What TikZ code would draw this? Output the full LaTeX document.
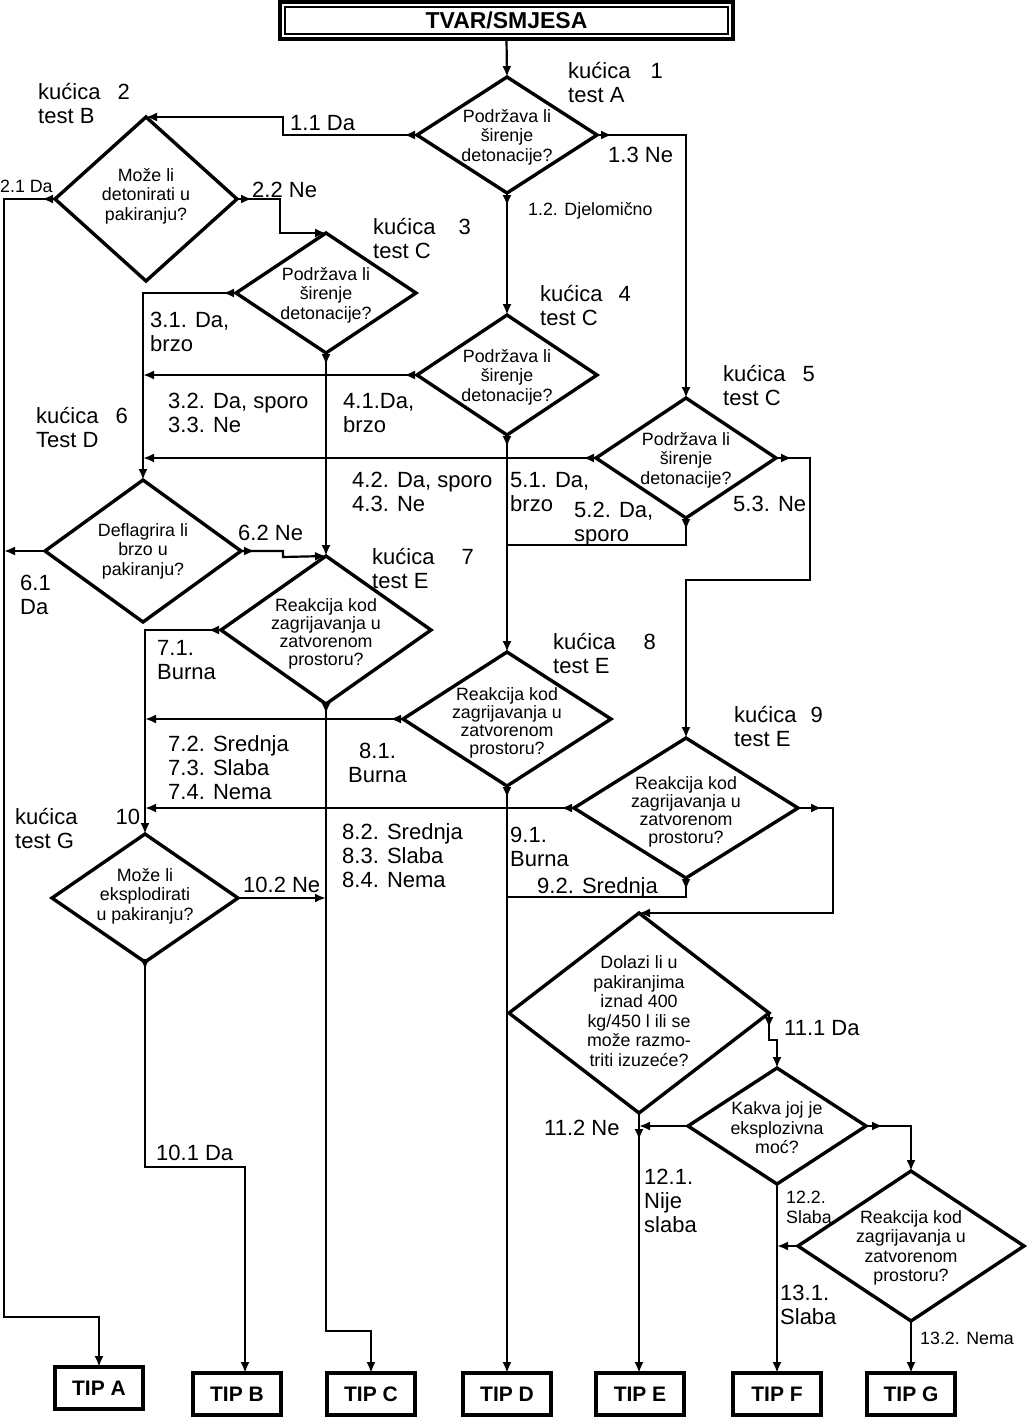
\documentclass[tikz,border=0pt]{standalone}
\usepackage{fontspec}
\setmainfont{Liberation Sans}
\usetikzlibrary{shapes.geometric,arrows.meta}
\newcommand\fbig{\fontsize{22}{24}\selectfont}
\newcommand\fsml{\fontsize{17.8}{19.5}\selectfont}
\newcommand\fsmt{\fontsize{17.8}{18}\selectfont}
\newcommand\kgap[1]{\hspace*{#1pt}}
\tikzset{
  conn/.style={line width=2.2pt},
  arr/.style={conn,-{Latex[length=11pt,width=9pt]}},
  dia/.style={draw,diamond,line width=3.4pt,inner sep=0pt,outer sep=0pt,line join=miter},
  qtext/.style={font=\fsml, align=center, inner sep=0pt},
  qtextt/.style={font=\fsmt, align=center, inner sep=0pt},
  lbl/.style={font=\fbig, align=left, anchor=north west, inner sep=0pt},
  slbl/.style={font=\fsml, align=left, anchor=north west, inner sep=0pt},
  tipbox/.style={draw, line width=4pt, minimum width=88pt, minimum height=42pt, inner sep=0pt, outer sep=0pt, font=\fontsize{21}{24}\selectfont\bfseries},
}
\begin{document}
\begin{tikzpicture}[x=1pt,y=-1pt]
\useasboundingbox (0,0) rectangle (1031,1425);
% top box
\node[draw, line width=4pt, minimum width=453pt, minimum height=37pt, inner sep=0pt, outer sep=0pt, font=\fontsize{23}{26}\selectfont\bfseries] (top) at (506.5,20.5) {TVAR/SMJESA};
\draw[line width=2pt] ([xshift=5pt,yshift=-5pt]top.north west) rectangle ([xshift=-5pt,yshift=5pt]top.south east);

% diamonds
\node[dia, minimum width=180pt, minimum height=116pt] (d1) at (507,135) {};
\node[dia, minimum width=182pt, minimum height=164pt] (d2) at (146,199) {};
\node[dia, minimum width=180pt, minimum height=120pt] (d3) at (326,293) {};
\node[dia, minimum width=180pt, minimum height=120pt] (d4) at (507,375) {};
\node[dia, minimum width=180pt, minimum height=120pt] (d5) at (686,458) {};
\node[dia, minimum width=196pt, minimum height=142pt] (d6) at (143,551) {};
\node[dia, minimum width=210pt, minimum height=148pt] (d7) at (326,630) {};
\node[dia, minimum width=208pt, minimum height=134pt] (d8) at (507,719) {};
\node[dia, minimum width=224pt, minimum height=140pt] (d9) at (686,808) {};
\node[dia, minimum width=186pt, minimum height=128pt] (d10) at (145,898) {};
\node[dia, minimum width=260pt, minimum height=200pt] (d11) at (639,1013) {};
\node[dia, minimum width=178pt, minimum height=116pt] (d12) at (777,1126) {};
\node[dia, minimum width=226pt, minimum height=150pt] (d13) at (911,1246) {};

% diamond texts
\node[qtext] (q1) at (507,137) {Podržava li\\širenje\\detonacije?};
\node[qtext] (q2) at (146,196) {Može li\\detonirati u\\pakiranju?};
\node[qtext] (q3) at (326,295) {Podržava li\\širenje\\detonacije?};
\node[qtext] (q4) at (507,377) {Podržava li\\širenje\\detonacije?};
\node[qtext] (q5) at (686,460) {Podržava li\\širenje\\detonacije?};
\node[qtext] (q6) at (143,551) {Deflagrira li\\brzo u\\pakiranju?};
\node[qtextt] (q7) at (326,634) {Reakcija kod\\zagrijavanja u\\zatvorenom\\prostoru?};
\node[qtextt] (q8) at (507,723) {Reakcija kod\\zagrijavanja u\\zatvorenom\\prostoru?};
\node[qtextt] (q9) at (686,812) {Reakcija kod\\zagrijavanja u\\zatvorenom\\prostoru?};
\node[qtext] (q10) at (145,896) {Može li\\eksplodirati\\u pakiranju?};
\node[qtext] (q11) at (639,1011) {Dolazi li u\\pakiranjima\\iznad 400\\kg/450 l ili se\\može razmo-\\triti izuzeće?};
\node[qtext] (q12) at (777,1128) {Kakva joj je\\eksplozivna\\moć?};
\node[qtext] (q13) at (911,1248) {Reakcija kod\\zagrijavanja u\\zatvorenom\\prostoru?};

% result boxes
\node[tipbox] (tipA) at (99,1388) {TIP A};
\node[tipbox] (tipB) at (237,1394) {TIP B};
\node[tipbox] (tipC) at (371,1394) {TIP C};
\node[tipbox] (tipD) at (507,1394) {TIP D};
\node[tipbox] (tipE) at (640,1394) {TIP E};
\node[tipbox] (tipF) at (777,1394) {TIP F};
\node[tipbox] (tipG) at (911,1394) {TIP G};

% connectors
\draw[arr] (top.south) -- (d1.north);
\draw[arr] (d1.west) -- (283,135) -- (283,117) -- (d2.north);
\draw[arr] (d1.east) -- (686,135) -- (d5.north);
\draw[arr] (d1.south) -- (d4.north);
\draw[arr] (d2.west) -- (4,199) -- (4,1317) -- (99,1317) -- (tipA.north);
\draw[arr] (d2.east) -- (280,199) -- (280,233) -- (d3.north);
\draw[arr] (d3.west) -- (d3.west -| d6.north) -- (d6.north);
\draw[arr] (d3.south) -- (d7.north);
\draw[arr] (d4.west) -- (d4.west -| d6.north);
\draw[arr] (d4.south) -- (d8.north);
\draw[arr] (d5.west) -- (d5.west -| d6.north);
\draw[conn] (d5.south) -- (686,545) -- (507,545);
\draw[arr] (d5.east) -- (810,458) -- (810,580) -- (686,580) -- (d9.north);
\draw[arr] (d6.west) -- (4,551);
\draw[arr] (d6.east) -- (283,551) -- (283,557) -- (d7.north);
\draw[arr] (d7.west) -- (d7.west -| d10.north) -- (d10.north);
\draw[arr] (d7.south) -- (326,1331) -- (371,1331) -- (tipC.north);
\draw[arr] (d8.west) -- (d8.west -| d10.north);
\draw[arr] (d8.south) -- (tipD.north);
\draw[arr] (d9.west) -- (d9.west -| d10.north);
\draw[conn] (d9.south) -- (686,897) -- (507,897);
\draw[arr] (d9.east) -- (833,808) -- (833,913) -- (d11.north);
\draw[arr] (d10.south) -- (145,1167) -- (245,1167) -- ([xshift=8pt]tipB.north);
\draw[arr] (d10.east) -- (d10.east -| d7.south);
\draw[arr] (d11.east) -- (769,1040) -- (777,1040) -- (d12.north);
\draw[arr] (d11.south) -- (d11.south |- tipE.north);
\draw[arr] (d12.west) -- (d12.west -| d11.south);
\draw[arr] (d12.east) -- (911,1126) -- (d13.north);
\draw[arr] (d12.south) -- (tipF.north);
\draw[arr] (d13.west) -- (d13.west -| d12.south);
\draw[arr] (d13.south) -- (tipG.north);

% exit arrowheads
\draw[arr] (d1.west) -- ++(-13,0);
\draw[arr] (d1.east) -- ++(15,0);
\draw[arr] (d1.south) -- ++(0,13);
\draw[arr] (d2.west) -- ++(-13,0);
\draw[arr] (d2.east) -- ++(15,0);
\draw[arr] (d3.west) -- ++(-13,0);
\draw[arr] (d3.south) -- ++(0,12);
\draw[arr] (d4.west) -- ++(-13,0);
\draw[arr] (d4.south) -- ++(0,12);
\draw[arr] (d5.west) -- ++(-13,0);
\draw[arr] (d5.east) -- ++(16,0);
\draw[arr] (d5.south) -- ++(0,12);
\draw[arr] (d6.east) -- ++(14,0);
\draw[arr] (d7.west) -- ++(-13,0);
\draw[arr] (d7.south) -- ++(0,10);
\draw[arr] (d8.west) -- ++(-13,0);
\draw[arr] (d8.south) -- ++(0,12);
\draw[arr] (d9.west) -- ++(-13,0);
\draw[arr] (d9.east) -- ++(24,0);
\draw[arr] (d9.south) -- ++(0,12);
\draw[arr] (d10.south) -- ++(0,8);
\draw[arr] (d11.east) -- ++(0,15);
\draw[arr] (d11.south) -- ++(0,27);
\draw[arr] (d12.east) -- ++(17,0);

% box labels
\node[lbl] (k1) at (568,62) {kućica\kgap{20}1\\test A};
\node[lbl] (k2) at (38,83) {kućica\kgap{17}2\\test B};
\node[lbl] (k3) at (373,218) {kućica\kgap{23}3\\test C};
\node[lbl] (k4) at (540,285) {kućica\kgap{16}4\\test C};
\node[lbl] (k5) at (723,365) {kućica\kgap{17}5\\test C};
\node[lbl] (k6) at (36,407) {kućica\kgap{17}6\\Test D};
\node[lbl] (k7) at (372,548) {kućica\kgap{27}7\\test E};
\node[lbl] (k8) at (553,633) {kućica\kgap{28}8\\test E};
\node[lbl] (k9) at (734,706) {kućica\kgap{14}9\\test E};
\node[lbl] (k10) at (15,808) {kućica\kgap{38}10\\test G};

% edge labels
\node[lbl] (e11) at (290,115) {1.1 Da};
\node[lbl] (e13) at (608,147) {1.3 Ne};
\node[slbl] (e12) at (528,202) {1.2. Djelomično};
\node[slbl] (e21) at (0,180) {2.1 Da};
\node[lbl] (e22) at (252,182) {2.2 Ne};
\node[lbl] (e31) at (150,312) {3.1. Da,\\brzo};
\node[lbl] (e32) at (168,393) {3.2. Da, sporo\\3.3. Ne};
\node[lbl] (e41) at (343,393) {4.1.Da,\\brzo};
\node[lbl] (e42) at (352,472) {4.2. Da, sporo\\4.3. Ne};
\node[lbl] (e51) at (510,472) {5.1. Da,\\brzo};
\node[lbl] (e52) at (574,502) {5.2. Da,\\sporo};
\node[lbl] (e53) at (733,496) {5.3. Ne};
\node[lbl] (e62) at (238,525) {6.2 Ne};
\node[lbl] (e61) at (20,575) {6.1\\Da};
\node[lbl] (e71) at (157,640) {7.1.\\Burna};
\node[lbl] (e72) at (168,735) {7.2. Srednja\\7.3. Slaba\\7.4. Nema};
\node[lbl, align=center] (e81) at (348,743) {8.1.\\Burna};
\node[lbl] (e82) at (342,823) {8.2. Srednja\\8.3. Slaba\\8.4. Nema};
\node[lbl] (e91) at (510,827) {9.1.\\Burna};
\node[lbl] (e92) at (537,877) {9.2. Srednja};
\node[lbl] (e102) at (243,877) {10.2 Ne};
\node[lbl] (e101) at (156,1145) {10.1 Da};
\node[lbl] (e111) at (784,1020) {11.1 Da};
\node[lbl] (e112) at (544,1120) {11.2 Ne};
\node[lbl] (e121) at (644,1169) {12.1.\\Nije\\slaba};
\node[slbl] (e122) at (786,1191) {12.2.\\Slaba};
\node[lbl] (e131) at (780,1285) {13.1.\\Slaba};
\node[slbl] (e132) at (920,1332) {13.2. Nema};
\end{tikzpicture}
\end{document}
